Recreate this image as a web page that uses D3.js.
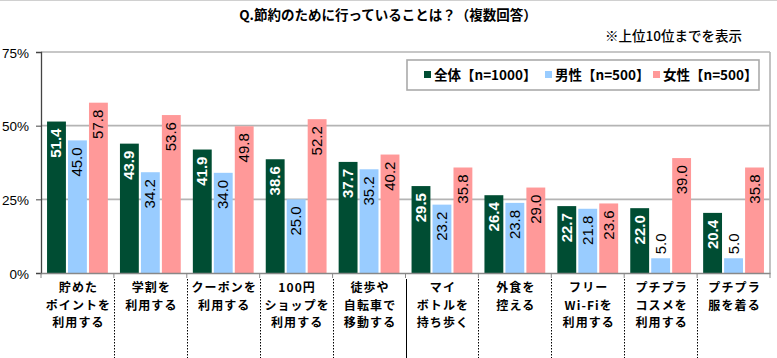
<!DOCTYPE html>
<html><head><meta charset="utf-8">
<script src="https://cdn.jsdelivr.net/npm/d3@7/dist/d3.min.js"></script>
<style>
html,body{margin:0;padding:0;background:#fff;}
svg{display:block;}
</style></head>
<body>
<script>
const categories = [
  "貯めた\nポイントを\n利用する",
  "学割を\n利用する",
  "クーポンを\n利用する",
  "100円\nショップを\n利用する",
  "徒歩や\n自転車で\n移動する",
  "マイ\nボトルを\n持ち歩く",
  "外食を\n控える",
  "フリー\nWi-Fiを\n利用する",
  "プチプラ\nコスメを\n利用する",
  "プチプラ\n服を着る"
];
const seriesNames = ["全体【n=1000】", "男性【n=500】", "女性【n=500】"];
const totalValues = [51.4, 43.9, 41.9, 38.6, 37.7, 29.5, 26.4, 22.7, 22.0, 20.4];
const maleValues  = [45.0, 34.2, 34.0, 25.0, 35.2, 23.2, 23.8, 21.8, 5.0, 5.0];
const femaleValues= [57.8, 53.6, 49.8, 52.2, 40.2, 35.8, 29.0, 23.6, 39.0, 35.8];
const yTicks = [0, 25, 50, 75];
const yTickLabels = ["0%", "25%", "50%", "75%"];
const colors = ["#004d33", "#99ccff", "#ff9999"];
const labelColors = ["#ffffff", "#000000", "#000000"];
const titleText = "Q.節約のために行っていることは？（複数回答）";
const noteText = "※上位10位までを表示";

(function(){
const W = 777, H = 358;
const pLeft = 41, pRight = 770, pTop = 52, pBottom = 273;
const jp = "'Noto Sans CJK JP','Noto Sans',sans-serif";
const num = "'Liberation Sans',Arial,sans-serif";

const svg = d3.select("body").append("svg").attr("width", W).attr("height", H);

const x = d3.scaleBand().domain(categories).range([pLeft, pRight]).padding(0);
const xs = d3.scaleBand().domain([0,1,2]).range([5, x.bandwidth() - 5]).paddingInner(0.1).paddingOuter(0.05);
const y = d3.scaleLinear().domain([0, 75]).range([pBottom, pTop]);

svg.append("line").attr("x1",0).attr("x2",W).attr("y1",0.5).attr("y2",0.5).attr("stroke","#d0d0d0");

svg.append("text").attr("x", 388).attr("y", 20).attr("text-anchor","middle")
  .attr("font-family", jp).attr("font-size", 13.5).attr("font-weight", 600).attr("fill","#000").text(titleText);
svg.append("text").attr("x", 742).attr("y", 41).attr("text-anchor","end")
  .attr("font-family", jp).attr("font-size", 13.5).attr("font-weight", 500).attr("fill","#000").text(noteText);

svg.append("g").selectAll("line").data(yTicks.filter(d => d > 0)).join("line")
  .attr("x1", pLeft).attr("x2", pRight).attr("y1", d => y(d)).attr("y2", d => y(d))
  .attr("stroke", "#b4b4b4").attr("stroke-width", 1.6);
svg.append("line").attr("x1", pRight).attr("x2", pRight).attr("y1", pTop).attr("y2", pBottom)
  .attr("stroke","#b4b4b4").attr("stroke-width",1.6);

const series = [totalValues, maleValues, femaleValues];
series.forEach((vals, si) => {
  const g = svg.append("g");
  g.selectAll("rect").data(vals).join("rect")
    .attr("x", (d,i) => x(categories[i]) + xs(si))
    .attr("width", xs.bandwidth())
    .attr("y", d => y(d))
    .attr("height", d => y(0) - y(d))
    .attr("fill", colors[si]);
  g.selectAll("text").data(vals).join("text")
    .attr("transform", (d,i) => {
      const cx = x(categories[i]) + xs(si) + xs.bandwidth()/2 + 5;
      const ty = d < 10 ? y(d) - 4 : y(d) + 7;
      return `translate(${cx},${ty}) rotate(-90)`;
    })
    .attr("text-anchor", d => d < 10 ? "start" : "end")
    .attr("font-family", num).attr("font-size", 15)
    .attr("font-weight", si === 0 ? "bold" : "normal")
    .attr("fill", d => d < 10 ? "#000" : labelColors[si])
    .text(d => d.toFixed(1));
});

const yAxis = d3.axisLeft(y).tickValues(yTicks).tickFormat((d,i) => yTickLabels[i]).tickSize(5);
const ya = svg.append("g").attr("transform", `translate(${pLeft},0)`).call(yAxis);
ya.select(".domain").attr("stroke","#444").attr("stroke-width",1.3);
ya.selectAll(".tick line").attr("stroke","#444");
ya.selectAll(".tick text").attr("font-family", num).attr("font-size", 13.5).attr("fill","#000")
  .attr("x", -12).attr("dy", "0.38em");

const xAxis = d3.axisBottom(x).tickSize(0).tickFormat(() => "");
const xa = svg.append("g").attr("transform", `translate(0,${pBottom})`).call(xAxis);
xa.select(".domain").attr("stroke","#888").attr("stroke-width",1.3);
const bounds = categories.map(c => x(c)).concat([pRight]);
svg.append("g").selectAll("line").data(bounds).join("line")
  .attr("x1", d => d).attr("x2", d => d).attr("y1", pBottom).attr("y2", pBottom + 5)
  .attr("stroke","#888");

svg.append("g").selectAll("line").data(bounds.slice(1, -1)).join("line")
  .attr("x1", d => Math.round(d) + 0.5).attr("x2", d => Math.round(d) + 0.5)
  .attr("y1", pBottom + 6).attr("y2", H)
  .attr("stroke", "#000").attr("stroke-width", 1)
  .attr("stroke-dasharray", (d,i) => i === 4 ? null : "1.5,1.5");

const cl = svg.append("g");
categories.forEach(c => {
  c.split("\n").forEach((ln, li) => {
    cl.append("text").attr("text-anchor","middle")
      .attr("font-family", jp).attr("font-size", 12).attr("font-weight", "bold")
      .attr("letter-spacing", 1.1).attr("fill","#000")
      .attr("x", x(c) + x.bandwidth()/2 + 1).attr("y", 292 + li * 17.5).text(ln);
  });
});

const lg = svg.append("g");
lg.append("rect").attr("x", 407).attr("y", 60).attr("width", 352).attr("height", 30)
  .attr("fill","#fff").attr("stroke","#aaa").attr("stroke-width",1.6);
const legendX = [424, 545, 653];
seriesNames.forEach((s, i) => {
  lg.append("rect").attr("x", legendX[i]).attr("y", 71).attr("width", 7).attr("height", 7).attr("fill", colors[i]);
  lg.append("text").attr("x", legendX[i] + 10).attr("y", 80)
    .attr("font-family", jp).attr("font-size", 13.5).attr("font-weight","bold").attr("fill","#000").text(s);
});
})();
</script>
</body></html>
